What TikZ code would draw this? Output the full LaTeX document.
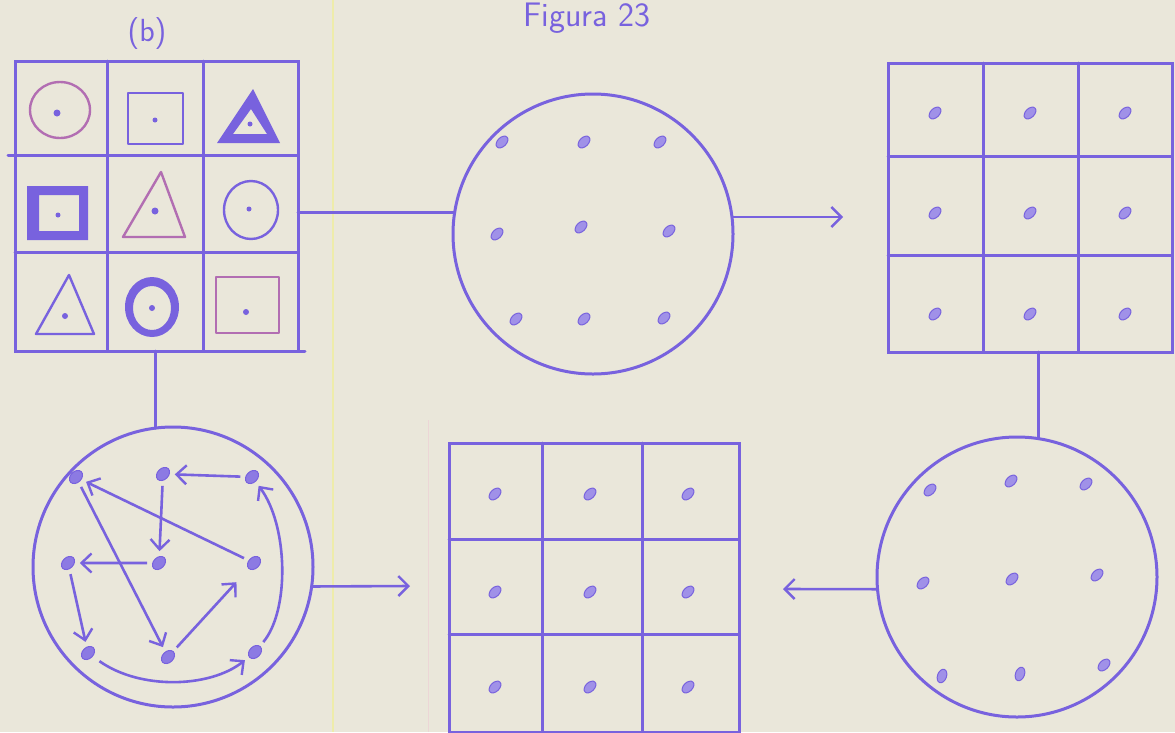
\documentclass[tikz,border=0pt]{standalone}
\usetikzlibrary{arrows.meta,shapes.geometric}
\definecolor{ink}{RGB}{120,98,222}
\definecolor{pinkink}{RGB}{178,110,178}
\definecolor{paper}{RGB}{234,231,218}
\definecolor{paperline}{RGB}{238,236,170}
\definecolor{paperpink}{RGB}{236,214,214}
\tikzset{
  inkline/.style={draw=ink, line width=3pt, line cap=round},
  shapeline/.style={draw=ink, line width=2.4pt, line join=round},
  pinkline/.style={draw=pinkink, line width=2.4pt, line join=round},
  gridbox/.style={draw=ink, line width=3pt, rectangle, inner sep=0pt, outer sep=0pt},
  bigcircle/.style={draw=ink, line width=3pt, circle, inner sep=0pt, outer sep=0pt, minimum size=280pt},
  blob/.style={ellipse, draw=ink, fill=ink!70, line width=1pt, minimum width=14pt, minimum height=9pt, inner sep=0pt, rotate=45},
  bigblob/.style={ellipse, draw=ink, fill=ink!85, line width=1pt, minimum width=15pt, minimum height=11pt, inner sep=0pt, rotate=45},
  arr/.style={draw=ink, line width=2.6pt, line cap=round, -{Straight Barb[length=10pt,width=20pt,line width=2.4pt]}},
  flow/.style={draw=ink, line width=2.6pt, shorten >=5pt, shorten <=5pt, -{Straight Barb[length=10pt,width=19pt,line width=2.4pt]}},
  smalldot/.style={fill=ink, draw=none},
  hand/.style={text=ink, font=\sffamily}
}
\begin{document}
\begin{tikzpicture}[x=1pt,y=-1pt]
\fill[paper] (0,0) rectangle (1175,732);
\useasboundingbox (0,0) rectangle (1175,732);
% paper margin lines
\draw[paperline, line width=1.5pt] (333,0) -- (333,732);
\draw[paperpink, line width=1pt] (428,420) -- (428,732);

% titles
\node[hand, anchor=base, font=\sffamily\fontsize{34}{34}\selectfont] (title) at (587,26) {Figura 23};
\node[hand, font=\sffamily\fontsize{32}{32}\selectfont] (lab) at (147,34) {(b)};

% ---------- grid G1 (shapes) ----------
\node[gridbox, minimum width=283pt, minimum height=290pt] (G1) at (156.5,206) {};
\draw[inkline] (107,61) -- (107,351);
\draw[inkline] (203,61) -- (203,351);
\draw[inkline] (8,155) -- (298,155);
\draw[inkline] (15,252) -- (298,252);
\draw[inkline] (298,351) -- (305,351);
% row 1
\draw[pinkline] (60,110) ellipse [x radius=30, y radius=28];
\fill[smalldot] (57,113) circle (3.5);
\draw[shapeline] (128,93) rectangle (183,144);
\fill[smalldot] (155,120) circle (2.5);
\fill[ink, even odd rule] (253,89) -- (217,143) -- (280,143) -- cycle
                          (251,109) -- (233,134) -- (267,134) -- cycle;
\fill[smalldot] (250,124) circle (2.5);
% row 2
\fill[ink, even odd rule] (27,186) rectangle (88,240) (39,195) rectangle (79,231);
\fill[smalldot] (58,215) circle (2.5);
\draw[pinkline] (161,172) -- (123,237) -- (185,237) -- cycle;
\fill[smalldot] (155,211) circle (3.5);
\draw[shapeline] (251,210) ellipse [x radius=27, y radius=29];
\fill[smalldot] (249,209) circle (2.5);
% row 3
\draw[shapeline] (69,275) -- (36,334) -- (94,334) -- cycle;
\fill[smalldot] (65,316) circle (3);
\fill[ink, even odd rule] (152,307) ellipse [x radius=27, y radius=30]
                          (152,308) ellipse [x radius=19, y radius=22];
\fill[smalldot] (152,308) circle (3);
\draw[pinkline] (216,277) rectangle (279,333);
\fill[smalldot] (246,312) circle (3);

% ---------- circle C1 ----------
\node[bigcircle] (C1) at (593,234) {};
\node[blob] (c1a) at (502,142) {};
\node[blob] (c1b) at (584,142) {};
\node[blob] (c1c) at (660,142) {};
\node[blob] (c1d) at (497,234) {};
\node[blob] (c1e) at (581,227) {};
\node[blob] (c1f) at (669,231) {};
\node[blob] (c1g) at (516,319) {};
\node[blob] (c1h) at (584,319) {};
\node[blob] (c1i) at (664,318) {};
\draw[inkline] (G1.east |- C1.171) -- (C1.171);
\coordinate (a1) at (843,217);
\draw[arr] (C1.east |- a1) -- (a1);

% ---------- grid G2 ----------
\node[gridbox, minimum width=284pt, minimum height=289pt] (G2) at (1030,207.5) {};
\draw[inkline] (983,63) -- (983,352);
\draw[inkline] (1078,63) -- (1078,352);
\draw[inkline] (888,156) -- (1172,156);
\draw[inkline] (888,255) -- (1172,255);
\foreach \x/\n in {935/a,1030/b,1125/c}{
  \node[blob] (g2\n1) at (\x,113) {};
  \node[blob] (g2\n2) at (\x,213) {};
  \node[blob] (g2\n3) at (\x,314) {};
}

% ---------- circle C2 ----------
\node[bigcircle] (C2) at (1017,577) {};
\node[blob] (c2a) at (930,490) {};
\node[blob] (c2b) at (1011,481) {};
\node[blob] (c2c) at (1086,484) {};
\node[blob] (c2d) at (923,583) {};
\node[blob] (c2e) at (1012,579) {};
\node[blob] (c2f) at (1097,575) {};
\node[blob, rotate=25] (c2g) at (942,676) {};
\node[blob, rotate=25] (c2h) at (1020,674) {};
\node[blob] (c2i) at (1104,665) {};
\draw[inkline] (C2.81) -- (C2.81 |- G2.south);
\coordinate (a2) at (783,589);
\draw[arr] (C2.185) -- (a2);

% ---------- grid G3 ----------
\node[gridbox, minimum width=290pt, minimum height=289pt] (G3) at (594,587.5) {};
\draw[inkline] (542,443) -- (542,732);
\draw[inkline] (642,443) -- (642,732);
\draw[inkline] (449,539) -- (739,539);
\draw[inkline] (449,634) -- (739,634);
\foreach \x/\n in {495/a,590/b,688/c}{
  \node[blob] (g3\n1) at (\x,494) {};
  \node[blob] (g3\n2) at (\x,592) {};
  \node[blob] (g3\n3) at (\x,687) {};
}

% ---------- circle C3 (graph) ----------
\node[bigcircle] (C3) at (173,567) {};
\draw[inkline] (C3.97) -- (C3.97 |- G1.south);
\coordinate (a3) at (410,586);
\draw[arr] (C3.-8) -- (a3);
\node[bigblob] (A) at (76,477) {};
\node[bigblob] (B) at (163,474) {};
\node[bigblob] (Cc) at (252,477) {};
\node[bigblob] (D) at (68,563) {};
\node[bigblob] (E) at (159,563) {};
\node[bigblob] (F) at (254,563) {};
\node[bigblob] (Gd) at (88,653) {};
\node[bigblob] (H) at (168,657) {};
\node[bigblob] (I) at (255,652) {};
\draw[flow] (Cc) -- (B);
\draw[flow] (B) -- (E);
\draw[flow] (E) -- (D);
\draw[flow] (D) -- (Gd);
\draw[flow, shorten <=8pt] (Gd) .. controls (140,690) and (210,688) .. (I);
\draw[flow] (I) .. controls (290,610) and (288,525) .. (Cc);
\draw[flow] (F) -- (A);
\draw[flow] (A) -- (H);
\draw[flow, shorten >=18pt] (H) -- (F);
\end{tikzpicture}
\end{document}
